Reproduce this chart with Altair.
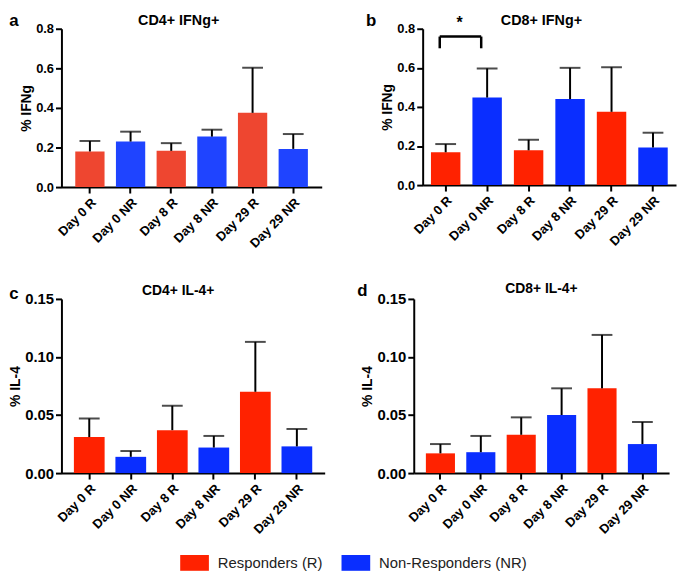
import altair as alt
import pandas as pd

categories = ["Day 0 R", "Day 0 NR", "Day 8 R", "Day 8 NR", "Day 29 R", "Day 29 NR"]
groups = ["R", "NR", "R", "NR", "R", "NR"]
group_names = {"R": "Responders (R)", "NR": "Non-Responders (NR)"}

cd4_ifng_mean = [0.180, 0.230, 0.183, 0.255, 0.375, 0.193]
cd4_ifng_upper = [0.233, 0.280, 0.222, 0.290, 0.603, 0.268]
cd8_ifng_mean = [0.168, 0.448, 0.178, 0.440, 0.375, 0.193]
cd8_ifng_upper = [0.210, 0.597, 0.232, 0.600, 0.603, 0.268]
cd4_il4_mean = [0.031, 0.014, 0.037, 0.022, 0.070, 0.023]
cd4_il4_upper = [0.047, 0.019, 0.058, 0.032, 0.113, 0.038]
cd8_il4_mean = [0.017, 0.018, 0.033, 0.050, 0.073, 0.025]
cd8_il4_upper = [0.025, 0.032, 0.048, 0.073, 0.119, 0.044]

ifng_ticks = [0.0, 0.2, 0.4, 0.6, 0.8]
il4_ticks = [0.0, 0.05, 0.10, 0.15]

# significance bracket in panel b
bracket_cats = ["Day 0 R", "Day 0 NR"]
bracket_low = 0.70
bracket_high = 0.76
star_y = 0.83

FONT = "Liberation Sans"
R_LABEL = group_names["R"]
NR_LABEL = group_names["NR"]


def panel(title, letter, ytitle, mean, upper, ticks, yfmt, w, h, fixed_colors=False,
          letter_dx=-44, letter_dy=-14, title_dx=-10, title_dy=-14,
          pad_inner=0.28, pad_outer=0.34, ylabel_size=13, title_size=14.5):
    df = pd.DataFrame({
        "cat": categories,
        "group": [group_names[g] for g in groups],
        "mean": mean,
        "upper": upper,
    })
    base = alt.Chart(df)
    x = alt.X("cat:N", sort=categories, title=None,
              scale=alt.Scale(paddingInner=pad_inner, paddingOuter=pad_outer),
              axis=alt.Axis(labelAngle=-45, labelAlign="right", labelBaseline="top",
                            labelPadding=3, labelFontSize=13, labelOverlap=False))
    y = alt.Y("mean:Q",
              scale=alt.Scale(domain=[ticks[0], ticks[-1]], nice=False, zero=True),
              axis=alt.Axis(values=ticks, tickCount=len(ticks), format=yfmt,
                            title=ytitle, titlePadding=2,
                            labelFontSize=ylabel_size, labelOverlap=False))
    if fixed_colors:
        color = alt.condition(alt.datum.group == R_LABEL,
                              alt.value("#EE4630"), alt.value("#1F44FF"))
    else:
        color = alt.Color("group:N",
                          scale=alt.Scale(domain=[R_LABEL, NR_LABEL],
                                          range=["#FF2200", "#0A2EFF"]),
                          legend=alt.Legend(
                              title=None, orient="none", direction="horizontal",
                              legendX=120, legendY=525, padding=0,
                              symbolType="M-1,-0.55H1V0.55H-1Z", symbolSize=841,
                              symbolStrokeWidth=0, labelFontSize=15,
                              labelFontWeight="normal", labelFont=FONT,
                              labelColor="#222222", labelOffset=9,
                              columnPadding=19))
    bars = base.mark_bar().encode(x=x, y=y, color=color)
    err = base.mark_rule(color="black", strokeWidth=2).encode(
        x=alt.X("cat:N", sort=categories), y="mean:Q", y2="upper:Q")
    cap = base.mark_tick(color="black", thickness=2, size=21).encode(
        x=alt.X("cat:N", sort=categories), y="upper:Q")
    lab = alt.Chart(pd.DataFrame({"t": [letter]})).mark_text(
        font=FONT, fontWeight="bold", fontSize=17, align="center", baseline="middle",
        color="black").encode(text="t:N", x=alt.value(letter_dx), y=alt.value(letter_dy))
    ttl = alt.Chart(pd.DataFrame({"t": [title]})).mark_text(
        font=FONT, fontWeight="bold", fontSize=title_size, align="center", baseline="middle",
        color="black").encode(text="t:N", x=alt.value(w / 2 + title_dx), y=alt.value(title_dy))
    layers = [bars, err, cap, lab, ttl]
    return layers, dict(width=w, height=h)


la, pa = panel("CD4+ IFNg+", "a", "% IFNg", cd4_ifng_mean, cd4_ifng_upper,
               ifng_ticks, ".1f", 263, 160, fixed_colors=True,
               letter_dx=-48, letter_dy=-8, title_dx=-13, title_dy=-8)
chart_a = alt.layer(*la).properties(**pa)

lb, pb = panel("CD8+ IFNg+", "b", "% IFNg", cd8_ifng_mean, cd8_ifng_upper,
               ifng_ticks, ".1f", 256, 158,
               letter_dx=-52, letter_dy=-8, title_dx=-8, title_dy=-8,
               pad_inner=0.29, pad_outer=0.2)
bdf = pd.DataFrame({"cat": bracket_cats, "lo": [bracket_low] * 2, "hi": [bracket_high] * 2})
bracket_v = alt.Chart(bdf).mark_rule(color="black", strokeWidth=2.5, xOffset=-6).encode(
    x=alt.X("cat:N", sort=categories), y="lo:Q", y2="hi:Q")
bracket_h = alt.Chart(bdf).mark_line(color="black", strokeWidth=2.5, xOffset=-6).encode(
    x=alt.X("cat:N", sort=categories), y="hi:Q")
star = alt.Chart(pd.DataFrame({"cat": [bracket_cats[0]], "y": [star_y], "t": ["*"]})).mark_text(
    font=FONT, fontWeight="bold", fontSize=16, xOffset=14, baseline="middle").encode(
    x=alt.X("cat:N", sort=categories), y="y:Q", text="t:N")
chart_b = alt.layer(*lb, bracket_v, bracket_h, star).properties(**pb)

lc, pc = panel("CD4+ IL-4+", "c", "% IL-4", cd4_il4_mean, cd4_il4_upper,
               il4_ticks, ".2f", 266, 176,
               letter_dx=-48, letter_dy=-5, title_dx=-15, title_dy=-8,
               pad_inner=0.26, pad_outer=0.3, ylabel_size=15, title_size=14)
chart_c = alt.layer(*lc).properties(**pc)

ld, pd_ = panel("CD8+ IL-4+", "d", "% IL-4", cd8_il4_mean, cd8_il4_upper,
                il4_ticks, ".2f", 258, 176,
                letter_dx=-52, letter_dy=-8, title_dx=0, title_dy=-10,
                pad_inner=0.28, pad_outer=0.3, ylabel_size=15, title_size=14)
chart_d = alt.layer(*ld).properties(**pd_)

row1 = alt.hconcat(chart_a, chart_b, spacing=43)
row2 = alt.hconcat(chart_c, chart_d, spacing=31)

chart = alt.vconcat(row1, row2, spacing=30).properties(
    padding={"left": 0, "top": 0, "right": 0, "bottom": 0}
).configure_view(
    stroke="transparent"
).configure_axis(
    domainColor="black", domainWidth=2, tickColor="black", tickWidth=2, tickSize=6,
    labelFont=FONT, labelFontWeight="bold", labelColor="black",
    titleFont=FONT, titleFontWeight="bold", titleFontSize=14, titleColor="black",
    grid=False
)

chart.save("out.html", embed_options={"renderer": "svg", "actions": False})
